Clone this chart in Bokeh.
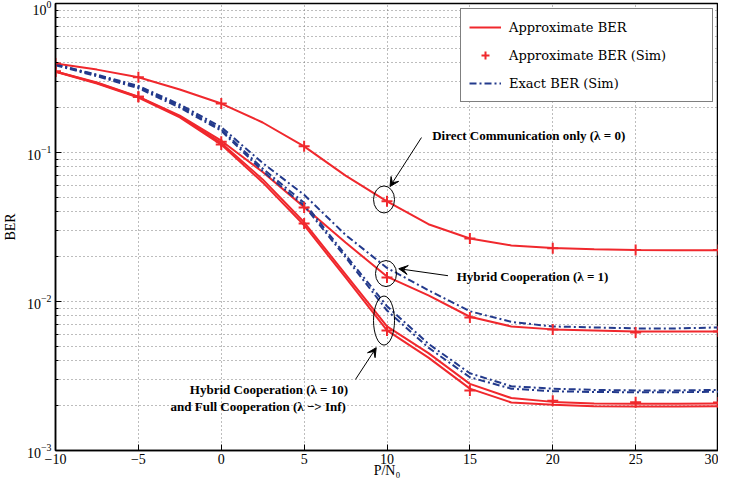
from bokeh.plotting import figure
from bokeh.models import (Range1d, FixedTicker, Legend, LegendItem, Arrow, VeeHead, Label)
from bokeh.embed import file_html
from bokeh.resources import INLINE

# ---------------- data ----------------
x_line = [-10, -7.5, -5, -2.5, 0, 2.5, 5, 7.5, 10, 12.5, 15, 17.5, 20, 22.5, 25, 27.5, 30]

# approximate BER (analytic curves)
approx_l0 = [0.395, 0.36, 0.32, 0.265, 0.213, 0.159, 0.11, 0.070, 0.047, 0.033, 0.0265,
             0.0238, 0.0229, 0.0224, 0.0222, 0.0221, 0.0221]
approx_l1 = [0.35, 0.295, 0.237, 0.177, 0.12, 0.074, 0.0430, 0.0249, 0.0147, 0.0110, 0.0079,
             0.0068, 0.0065, 0.0064, 0.0063, 0.0063, 0.0063]
approx_l10 = [0.35, 0.293, 0.236, 0.174, 0.116, 0.066, 0.0340, 0.0152, 0.0068, 0.0045, 0.0028,
              0.00225, 0.00212, 0.00207, 0.00206, 0.00206, 0.00207]
approx_linf = [0.348, 0.290, 0.234, 0.172, 0.113, 0.063, 0.0325, 0.0145, 0.0064, 0.0042, 0.0026,
               0.0021, 0.00203, 0.00198, 0.00197, 0.00197, 0.00198]

# exact BER (simulation)
exact_l1 = [0.39, 0.333, 0.28, 0.21, 0.148, 0.085, 0.052, 0.028, 0.0168, 0.0119, 0.0086,
            0.0073, 0.0068, 0.0067, 0.0066, 0.0066, 0.0067]
exact_l10 = [0.39, 0.33, 0.275, 0.205, 0.143, 0.078, 0.046, 0.0205, 0.0093, 0.0052, 0.0033,
             0.0027, 0.0026, 0.00255, 0.00253, 0.00253, 0.00255]
exact_linf = [0.385, 0.325, 0.27, 0.20, 0.14, 0.075, 0.044, 0.0198, 0.0087, 0.0049, 0.0031,
              0.0026, 0.0025, 0.00247, 0.00246, 0.00246, 0.00248]

# approximate BER (simulation markers)
x_sim = [-10, -5, 0, 5, 10, 15, 20, 25, 30]
sim_l0 = [0.395, 0.32, 0.213, 0.11, 0.047, 0.0265, 0.0228, 0.0222, 0.0222]
sim_l1 = [0.35, 0.237, 0.118, 0.0428, 0.0145, 0.0078, 0.0065, 0.0062, 0.0063]
sim_l10 = [0.35, 0.237, 0.113, 0.0334, 0.0064, 0.00253, 0.00216, 0.00211, 0.0021]

x_ticks = [-10, -5, 0, 5, 10, 15, 20, 25, 30]
y_ticks = [0.001, 0.01, 0.1, 1.0]
y_minor = [m * d for d in (0.001, 0.01, 0.1) for m in range(2, 10)]

RED = "#f0282d"
BLUE = "#233a8c"
SERIF = "Liberation Serif"

p = figure(width=718, height=480, y_axis_type="log",
           x_range=Range1d(-10, 30), y_range=Range1d(0.001, 1.0),
           output_backend="svg", toolbar_location=None,
           min_border_left=0, min_border_right=0, min_border_top=3, min_border_bottom=0)

p.background_fill_color = "white"
p.outline_line_color = "black"
p.outline_line_width = 1.5

# axes
p.xaxis.ticker = FixedTicker(ticks=x_ticks)
p.xaxis.major_label_overrides = {-10: "\u221210", -5: "\u22125"}
p.yaxis.ticker = FixedTicker(ticks=y_ticks, minor_ticks=y_minor)
for ax in (p.xaxis[0], p.yaxis[0]):
    ax.major_tick_in = 6
    ax.major_tick_out = 0
    ax.minor_tick_in = 3
    ax.minor_tick_out = 0
    ax.axis_line_color = "black"
    ax.axis_line_width = 1.5
    ax.major_tick_line_color = "black"
    ax.major_label_text_font = SERIF
    ax.major_label_text_font_size = "14px"
    ax.major_label_text_color = "black"
    ax.axis_label_text_font = SERIF
    ax.axis_label_text_font_size = "14px"
    ax.axis_label_text_font_style = "normal"
    ax.axis_label_text_color = "black"
p.xaxis.minor_tick_line_color = None
p.xaxis.major_label_standoff = 3
p.xaxis.axis_label = "P/N\u2080"
p.xaxis.axis_label_standoff = -4
p.yaxis.axis_label = "BER"
p.yaxis.major_label_standoff = 4
p.yaxis.axis_label_standoff = 6

# grids
GRID = "#7a7a7a"
p.xgrid.grid_line_color = GRID
p.xgrid.grid_line_dash = "1 3"
p.ygrid.grid_line_color = GRID
p.ygrid.grid_line_dash = "1 3"
p.ygrid.minor_grid_line_color = GRID
p.ygrid.minor_grid_line_dash = "1 3"

# approximate curves
r_a0 = p.line(x_line, approx_l0, line_color=RED, line_width=2)
p.line(x_line, approx_l1, line_color=RED, line_width=2)
p.line(x_line, approx_l10, line_color=RED, line_width=2)
p.line(x_line, approx_linf, line_color=RED, line_width=2)

# exact curves
r_e1 = p.line(x_line, exact_l1, line_color=BLUE, line_width=2, line_dash="7 3 2 3")
p.line(x_line, exact_l10, line_color=BLUE, line_width=2, line_dash="7 3 2 3")
p.line(x_line, exact_linf, line_color=BLUE, line_width=2, line_dash="7 3 2 3")

# simulation markers
r_s0 = p.scatter(x_sim, sim_l0, marker="cross", size=11, line_color=RED, line_width=2)
p.scatter(x_sim, sim_l1, marker="cross", size=11, line_color=RED, line_width=2)
p.scatter(x_sim, sim_l10, marker="cross", size=11, line_color=RED, line_width=2)

# ellipses around the 10 dB points
p.ellipse(x=[9.82, 9.94, 9.82], y=[0.0484, 0.0154, 0.00745],
          width=[21, 21, 21], height=[27, 26, 49],
          width_units="screen", height_units="screen",
          fill_color=None, line_color="black", line_width=1)

# arrows
for xs, ys, xe, ye in [(12.08, 0.126, 10.18, 0.0591),
                       (13.68, 0.0149, 10.71, 0.0166),
                       (8.10, 0.0030, 9.35, 0.0049)]:
    p.add_layout(Arrow(end=VeeHead(size=9, fill_color="black", line_color="black"),
                       x_start=xs, y_start=ys, x_end=xe, y_end=ye,
                       line_color="black", line_width=1))

# annotation texts
for tx, ty, t in [(18.55, 0.130, "Direct Communication only (\u03bb = 0)"),
                  (18.78, 0.0147, "Hybrid Cooperation (\u03bb = 1)"),
                  (2.88, 0.00257, "Hybrid Cooperation (\u03bb = 10)"),
                  (2.23, 0.00197, "and Full Cooperation (\u03bb \u2212> Inf)")]:
    p.add_layout(Label(x=tx, y=ty, text=t, text_align="center", text_baseline="middle",
                       text_font=SERIF, text_font_size="13px", text_font_style="bold",
                       text_color="black"))

legend = Legend(items=[LegendItem(label="Approximate BER", renderers=[r_a0]),
                       LegendItem(label="Approximate BER (Sim)", renderers=[r_s0]),
                       LegendItem(label="Exact BER (Sim)", renderers=[r_e1])],
                location="top_right")
legend.label_text_font = "DejaVu Serif"
legend.label_text_font_size = "13px"
legend.label_text_color = "black"
legend.border_line_color = "black"
legend.border_line_width = 1
legend.background_fill_alpha = 1.0
legend.glyph_width = 32
legend.glyph_height = 20
legend.spacing = 8
legend.padding = 8
legend.margin = 5
legend.label_width = 195
legend.label_standoff = 8
p.add_layout(legend)

open("out.html", "w").write(file_html(p, INLINE))
